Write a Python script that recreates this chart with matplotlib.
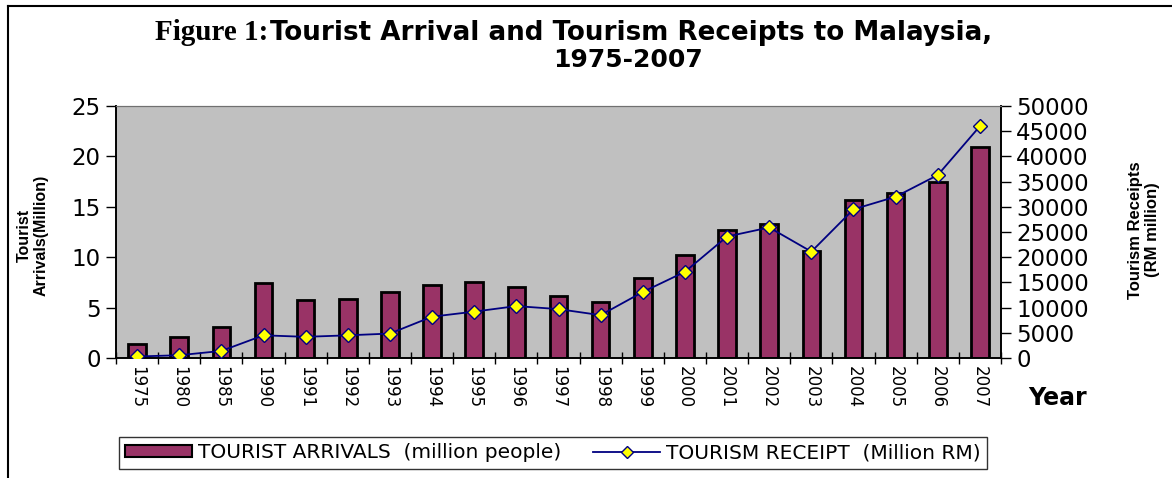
import matplotlib
matplotlib.use("Agg")
import matplotlib.pyplot as plt
from matplotlib.lines import Line2D
from matplotlib.patches import Patch
import numpy as np

years = ["1975", "1980", "1985", "1990", "1991", "1992", "1993", "1994", "1995", "1996",
         "1997", "1998", "1999", "2000", "2001", "2002", "2003", "2004", "2005", "2006", "2007"]
arrivals = [1.4, 2.1, 3.1, 7.4, 5.8, 5.9, 6.5, 7.2, 7.5, 7.0,
            6.2, 5.6, 7.9, 10.2, 12.7, 13.3, 10.6, 15.7, 16.4, 17.5, 20.9]
receipts = [300, 550, 1400, 4500, 4200, 4500, 4850, 8200, 9200, 10300,
            9700, 8500, 13100, 17100, 24100, 25900, 21100, 29500, 32000, 36300, 46000]

W, H = 1172, 478
SANS = "DejaVu Sans"
fig = plt.figure(figsize=(W / 100, H / 100), dpi=100)
ax = fig.add_axes([116 / W, 1 - 358 / H, (1001 - 116) / W, (358 - 106) / H])
ax2 = ax.twinx()

x = np.arange(len(years))
ax.set_facecolor("#c0c0c0")
ax.bar(x, arrivals, width=0.42, color="#993366", edgecolor="black", linewidth=2, zorder=2)
ax2.plot(x, receipts, color="#000080", lw=1.3, marker="D", markersize=7,
         markerfacecolor="#ffff00", markeredgecolor="#000080", markeredgewidth=1, zorder=3)

ax.set_xlim(-0.5, len(years) - 0.5)
ax.set_ylim(0, 25)
ax2.set_ylim(0, 50000)
ax.set_yticks(range(0, 26, 5))
ax2.set_yticks(range(0, 50001, 5000))
ax.set_xticks(x)
ax.set_xticklabels(years, rotation=-90, fontsize=12, fontfamily=SANS)
ax.set_xticks(np.arange(-0.5, len(years), 1), minor=True)
ax.tick_params(axis="x", which="major", length=0, pad=6)
ax.tick_params(axis="x", which="minor", length=8, width=1, direction="inout")
ax.tick_params(axis="y", labelsize=16.5, length=7, width=1, pad=4)
ax2.tick_params(axis="y", labelsize=16.5, length=7, width=1, pad=4)
for t in ax.get_yticklabels() + ax2.get_yticklabels():
    t.set_fontfamily(SANS)

for a in (ax, ax2):
    a.spines["top"].set_color("#707070")
    for s in ("left", "right", "bottom"):
        a.spines[s].set_color("black")
        a.spines[s].set_linewidth(1.2)

# title: serif prefix plus sans-serif body
fig.text(268 / W, 1 - 33 / H, "Figure 1:", fontsize=21, fontweight="bold",
         fontfamily="Liberation Serif", ha="right", va="center")
fig.text(270 / W, 1 - 33 / H, "Tourist Arrival and Tourism Receipts to Malaysia,",
         fontsize=18.8, fontweight="bold", fontfamily=SANS, ha="left", va="center")
fig.text(628 / W, 1 - 60 / H, "1975-2007", fontsize=18, fontweight="bold",
         fontfamily=SANS, ha="center", va="center")

fig.text(33 / W, 1 - 235 / H, "Tourist\nArrivals(Million)", rotation=90, fontsize=11.5,
         fontweight="bold", fontfamily="Liberation Sans", ha="center", va="center",
         linespacing=1.15)
fig.text(1144 / W, 1 - 230 / H, "Tourism Receipts\n(RM million)", rotation=90, fontsize=12,
         fontweight="bold", fontfamily="Liberation Sans", ha="center", va="center",
         linespacing=1.2)
fig.text(1057 / W, 1 - 398 / H, "Year", fontsize=17, fontweight="bold",
         fontfamily=SANS, ha="center", va="center")

handles = [Patch(facecolor="#993366", edgecolor="black", linewidth=1.5),
           Line2D([0], [0], color="#000080", lw=1.3, marker="D", markersize=6,
                  markerfacecolor="#ffff00", markeredgecolor="#000080")]
labels = ["TOURIST ARRIVALS  (million people)", "TOURISM RECEIPT  (Million RM)"]
leg = fig.legend(handles, labels, loc="center", bbox_to_anchor=(553 / W, 1 - 453 / H),
                 ncol=2, frameon=True, fancybox=False, edgecolor="black",
                 prop={"family": SANS, "size": 14.5}, columnspacing=1.6,
                 handlelength=3.3, handleheight=0.55, borderpad=0.3, borderaxespad=0,
                 handletextpad=0.3)
leg.get_frame().set_linewidth(1)

# outer frame of the figure
fig.add_artist(Line2D([8 / W, 8 / W], [0, 1 - 6 / H], color="black", lw=1.5,
                      transform=fig.transFigure))
fig.add_artist(Line2D([8 / W, 1], [1 - 6 / H, 1 - 6 / H], color="black", lw=1.5,
                      transform=fig.transFigure))

fig.savefig("out.png", dpi=100)
